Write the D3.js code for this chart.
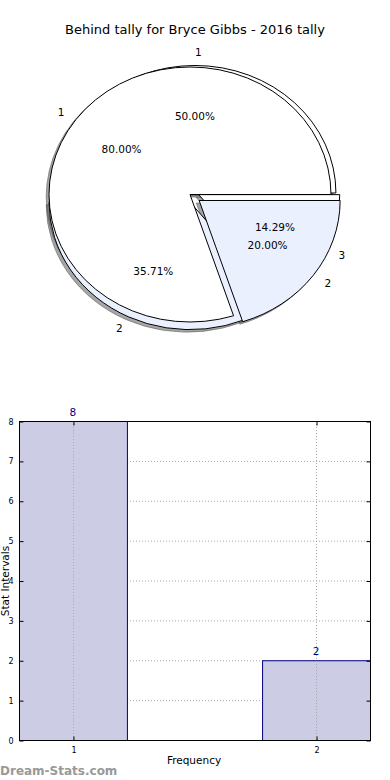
<!DOCTYPE html>
<html>
<head>
<meta charset="utf-8">
<script src="https://cdn.jsdelivr.net/npm/d3@7"></script>
<style>
  body { margin: 0; background: #fff; }
  text { font-family: "DejaVu Sans", sans-serif; }
</style>
</head>
<body>
<svg id="chart" width="390" height="780"></svg>
<script>
// data
const title = 'Behind tally for Bryce Gibbs - 2016 tally';
const pieALabels = ['1', '2', '3'];
const pieAValues = [7, 5, 2];
const pieBLabels = ['1', '2'];
const pieBValues = [8, 2];
const barCategories = [1, 2];
const barValues = [8, 2];
const yTicks = [0, 1, 2, 3, 4, 5, 6, 7, 8];

const svg = d3.select('#chart');

svg.append('text')
    .attr('x', 195)
    .attr('y', 34)
    .attr('text-anchor', 'middle')
    .attr('font-size', '13px')
    .text(title);

// ---- pie part (two pies drawn on the same axes, like the original) ----
const px = d3.scaleLinear().domain([-1, 1]).range([49, 331]);
const py = d3.scaleLinear().domain([-1, 1]).range([67, 322]); // y grows downwards here
const rx = (px(1) - px(-1)) / 2;
const ry = (py(1) - py(-1)) / 2;

const pies = [
    { values: pieAValues, labels: pieALabels, colors: ['#ffffff', '#eaf0fd', '#ffffff'],
      explode: [0, 0.08, 0.03], center: [0.035, -0.012] },
    { values: pieBValues, labels: pieBLabels, colors: ['#ffffff', '#eaf0fd'],
      explode: [0, 0.08], center: [0, 0] }
];

// matplotlib starts at 3 o'clock and turns counter clockwise
const pieLayout = d3.pie().sort(null)
    .startAngle(Math.PI / 2)
    .endAngle(Math.PI / 2 - 2 * Math.PI);
const arc = d3.arc().innerRadius(0).outerRadius(1);

const wedges = [];
pies.forEach(p => {
    pieLayout(p.values).forEach((d, i) => {
        const m = (d.startAngle + d.endAngle) / 2;
        const e = p.explode[i];
        wedges.push({
            d: d,
            m: m,
            label: p.labels[i],
            pct: (100 * d.value / d3.sum(p.values)).toFixed(2) + '%',
            color: p.colors[i % p.colors.length],
            cx: p.center[0] + e * Math.sin(m),
            cy: p.center[1] - e * Math.cos(m)
        });
    });
});

const pieG = svg.append('g');
const place = (ux, uy) => `translate(${px(ux)},${py(uy)}) scale(${rx},${ry})`;

// shadows sit under every wedge
pieG.append('g').selectAll('path')
    .data(wedges)
    .enter()
    .append('path')
    .attr('transform', w => place(w.cx - 0.02, w.cy + 0.02))
    .attr('d', w => arc(w.d))
    .attr('fill', '#4d4d4d')
    .attr('fill-opacity', 0.5)
    .attr('stroke', '#4d4d4d')
    .attr('stroke-opacity', 0.5)
    .attr('vector-effect', 'non-scaling-stroke');

pieG.append('g').selectAll('path')
    .data(wedges)
    .enter()
    .append('path')
    .attr('transform', w => place(w.cx, w.cy))
    .attr('d', w => arc(w.d))
    .attr('fill', w => w.color)
    .attr('stroke', '#000')
    .attr('stroke-width', 1)
    .attr('stroke-linejoin', 'round')
    .attr('vector-effect', 'non-scaling-stroke');

const labelG = pieG.append('g').attr('font-size', '10.5px').attr('fill', '#000');
wedges.forEach(w => {
    const lx = w.cx + 1.1 * Math.sin(w.m);
    const ly = w.cy - 1.1 * Math.cos(w.m);
    labelG.append('text')
        .attr('x', px(lx))
        .attr('y', py(ly))
        .attr('dy', '0.35em')
        .attr('text-anchor', lx > 0 ? 'start' : 'end')
        .text(w.label);
    labelG.append('text')
        .attr('x', px(w.cx + 0.6 * Math.sin(w.m)))
        .attr('y', py(w.cy - 0.6 * Math.cos(w.m)))
        .attr('dy', '0.35em')
        .attr('text-anchor', 'middle')
        .text(w.pct);
});

// ---- bar part ----
const bar = { left: 19, right: 370, top: 421, bottom: 740 };
const halfWidth = 0.222;
const x = d3.scaleLinear().domain([1 - halfWidth, 2 + halfWidth]).range([bar.left, bar.right]);
const y = d3.scaleLinear().domain([0, 8]).range([bar.bottom, bar.top]);

const barG = svg.append('g');

// grid
barG.append('g').selectAll('line.gy')
    .data(yTicks)
    .enter()
    .append('line')
    .attr('x1', bar.left).attr('x2', bar.right)
    .attr('y1', d => y(d) + 0.5).attr('y2', d => y(d) + 0.5)
    .attr('stroke', '#a8a8a8')
    .attr('stroke-dasharray', '1,2');

barG.append('g').selectAll('rect')
    .data(barValues)
    .enter()
    .append('rect')
    .attr('x', (d, i) => x(barCategories[i] - halfWidth) + 0.5)
    .attr('y', d => y(d) + 0.5)
    .attr('width', (d, i) => x(barCategories[i] + halfWidth) - x(barCategories[i] - halfWidth))
    .attr('height', d => y(0) - y(d))
    .attr('fill', '#ccccE5')
    .attr('stroke', '#000080')
    .attr('stroke-width', 1);

barG.append('g').selectAll('line.gx')
    .data(barCategories)
    .enter()
    .append('line')
    .attr('x1', d => Math.round(x(d)) + 0.5).attr('x2', d => Math.round(x(d)) + 0.5)
    .attr('y1', bar.top).attr('y2', bar.bottom)
    .attr('stroke', '#a8a8a8')
    .attr('stroke-dasharray', '1,2');

// value labels
barG.append('g').selectAll('text')
    .data(barValues)
    .enter()
    .append('text')
    .attr('x', (d, i) => x(barCategories[i]))
    .attr('y', d => y(d) - 5)
    .attr('text-anchor', 'middle')
    .attr('font-size', '10.5px')
    .attr('fill', '#00008b')
    .text(d => d);

// frame
barG.append('rect')
    .attr('x', bar.left + 0.5).attr('y', bar.top + 0.5)
    .attr('width', bar.right - bar.left).attr('height', bar.bottom - bar.top)
    .attr('fill', 'none')
    .attr('stroke', '#000');

// axes with inward ticks, like matplotlib classic
const yAxis = d3.axisLeft(y).tickValues(yTicks).tickSize(-4).tickPadding(6).tickFormat(d3.format('d'));
barG.append('g')
    .attr('transform', `translate(${bar.left + 0.5},0.5)`)
    .call(yAxis)
    .call(g => g.select('.domain').remove())
    .call(g => g.selectAll('text').attr('font-size', '8px').attr('font-family', '"DejaVu Sans", sans-serif'));
barG.append('g')
    .attr('transform', `translate(${bar.right + 0.5},0.5)`)
    .call(d3.axisRight(y).tickValues(yTicks).tickSize(-4).tickFormat(''))
    .call(g => g.select('.domain').remove());

const xAxis = d3.axisBottom(x).tickValues(barCategories).tickSize(-4).tickPadding(7).tickFormat(d3.format('d'));
barG.append('g')
    .attr('transform', `translate(0.5,${bar.bottom + 0.5})`)
    .call(xAxis)
    .call(g => g.select('.domain').remove())
    .call(g => g.selectAll('text').attr('font-size', '8px').attr('font-family', '"DejaVu Sans", sans-serif'));
barG.append('g')
    .attr('transform', `translate(0.5,${bar.top + 0.5})`)
    .call(d3.axisTop(x).tickValues(barCategories).tickSize(-4).tickFormat(''))
    .call(g => g.select('.domain').remove());

svg.append('text')
    .attr('x', 194)
    .attr('y', 764)
    .attr('text-anchor', 'middle')
    .attr('font-size', '10.5px')
    .text('Frequency');

svg.append('text')
    .attr('transform', 'translate(9,581) rotate(-90)')
    .attr('text-anchor', 'middle')
    .attr('font-size', '10.5px')
    .text('Stat Intervals');

svg.append('text')
    .attr('x', 0)
    .attr('y', 775)
    .attr('font-size', '12px')
    .attr('font-weight', 'bold')
    .attr('fill', '#999')
    .text('Dream-Stats.com');
</script>
</body>
</html>
